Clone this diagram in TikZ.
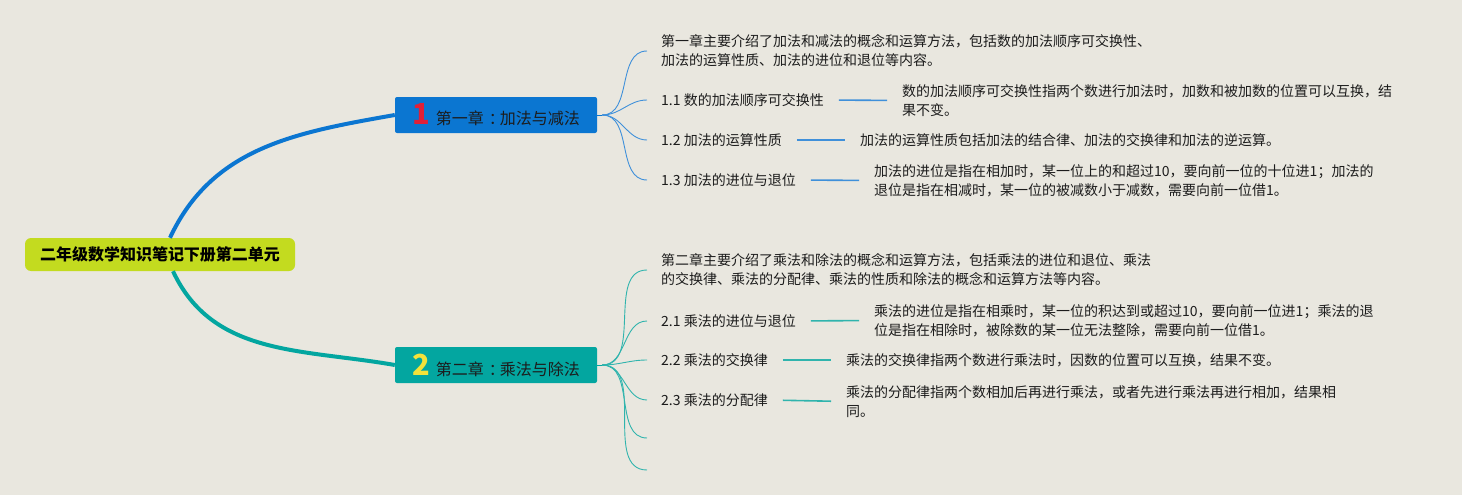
\documentclass[tikz,border=0pt]{standalone}
\usepackage{fontspec}
\setmainfont{Noto Sans CJK SC}
\definecolor{bgcol}{HTML}{E9E7DF}
\definecolor{rootcol}{HTML}{C3DB1F}
\definecolor{onecol}{HTML}{0B76D1}
\definecolor{twocol}{HTML}{03A6A0}
\definecolor{onethin}{HTML}{3F90DA}
\definecolor{twothin}{HTML}{30B4AD}
\definecolor{numred}{HTML}{E02038}
\definecolor{numyellow}{HTML}{F3E23A}
\definecolor{inkcol}{HTML}{1C1C1C}

\begin{document}
\begin{tikzpicture}[x=1pt,y=1pt]
  \tikzset{root box/.style={fill=rootcol,rounded corners=6pt,minimum width=270pt,minimum height=33pt,font=\bfseries\fontsize{16}{16}\selectfont},
    chapter box/.style={fill=#1,rounded corners=2pt,minimum width=202pt,minimum height=36pt,font=\fontsize{16}{16}\selectfont,text=inkcol},
    note/.style={anchor=west,inner xsep=0pt,inner ysep=1pt,align=left,text=inkcol,font=\fontsize{14}{19}\selectfont},
    main line/.style={draw=#1,line width=4pt},
    branch/.style={draw=#1,line width=0.9pt},
    link/.style={draw=#1,line width=1.6pt,shorten <=15pt,shorten >=15pt}}

  \useasboundingbox (0,0) rectangle (1462,-495);
  \fill[bgcol] (0,0) rectangle (1462,-495);

  \node [root box] (root) at (160,-254.5) {二年级数学知识笔记下册第二单元};
  \node [chapter box = onecol] (ch1) at (496,-115) {{\color{numred}\bfseries\fontsize{29}{29}\selectfont 1}\hspace{6pt}第一章\kern5pt：\kern-5pt加法与减法};
  \node [chapter box = twocol] (ch2) at (496,-365) {{\color{numyellow}\bfseries\fontsize{29}{29}\selectfont 2}\hspace{6pt}第二章\kern5pt：\kern-5pt乘法与除法};

  \draw [main line = onecol] ([xshift=10pt]root.north) to[out=65,in=190] (ch1.west);
  \draw [main line = twocol] ([xshift=13pt]root.south) to[out=-65,in=170] (ch2.west);

  \node [note] (s1) at (661,-51) {第一章主要介绍了加法和减法的概念和运算方法，包括数的加法顺序可交换性、\\加法的运算性质、加法的进位和退位等内容。};
  \node [note] (t11) at (661,-100) {1.1 数的加法顺序可交换性};
  \node [note] (d11) at (902,-100.5) {数的加法顺序可交换性指两个数进行加法时，加数和被加数的位置可以互换，结\\果不变。};
  \node [note] (t12) at (661,-140) {1.2 加法的运算性质};
  \node [note] (d12) at (860,-140) {加法的运算性质包括加法的结合律、加法的交换律和加法的逆运算。};
  \node [note] (t13) at (661,-180) {1.3 加法的进位与退位};
  \node [note] (d13) at (874,-180.5) {加法的进位是指在相加时，某一位上的和超过10，要向前一位的十位进1；加法的\\退位是指在相减时，某一位的被减数小于减数，需要向前一位借1。};

  \node [note] (s2) at (661,-270) {第二章主要介绍了乘法和除法的概念和运算方法，包括乘法的进位和退位、乘法\\的交换律、乘法的分配律、乘法的性质和除法的概念和运算方法等内容。};
  \node [note] (t21) at (661,-321) {2.1 乘法的进位与退位};
  \node [note] (d21) at (874,-320.5) {乘法的进位是指在相乘时，某一位的积达到或超过10，要向前一位进1；乘法的退\\位是指在相除时，被除数的某一位无法整除，需要向前一位借1。};
  \node [note] (t22) at (661,-360) {2.2 乘法的交换律};
  \node [note] (d22) at (846,-360) {乘法的交换律指两个数进行乘法时，因数的位置可以互换，结果不变。};
  \node [note] (t23) at (661,-400) {2.3 乘法的分配律};
  \node [note] (d23) at (846,-401.5) {乘法的分配律指两个数相加后再进行乘法，或者先进行乘法再进行相加，结果相\\同。};
  \coordinate (e1) at (647,-438);
  \coordinate (e2) at (647,-470);

  \coordinate (b1) at ([xshift=5pt]ch1.east);
  \coordinate (b2) at ([xshift=5pt]ch2.east);
  \draw [branch = onecol] (ch1.east) -- (b1);
  \draw [branch = twocol] (ch2.east) -- (b2);
  \foreach \n in {s1,t11,t12,t13}
    \draw [branch = onethin] (b1) to[out=0,in=180] ([xshift=-14pt]\n.west);
  \foreach \n in {s2,t21,t22,t23}
    \draw [branch = twothin] (b2) to[out=0,in=180] ([xshift=-14pt]\n.west);
  \draw [branch = twothin] (b2) to[out=0,in=180] (e1);
  \draw [branch = twothin] (b2) to[out=0,in=180] (e2);

  \draw [link = onethin] (t11.east) -- (d11.west);
  \draw [link = onethin] (t12.east) -- (d12.west);
  \draw [link = onethin] (t13.east) -- (d13.west);
  \draw [link = twothin] (t21.east) -- (d21.west);
  \draw [link = twothin] (t22.east) -- (d22.west);
  \draw [link = twothin] (t23.east) -- (d23.west);
\end{tikzpicture}
\end{document}
